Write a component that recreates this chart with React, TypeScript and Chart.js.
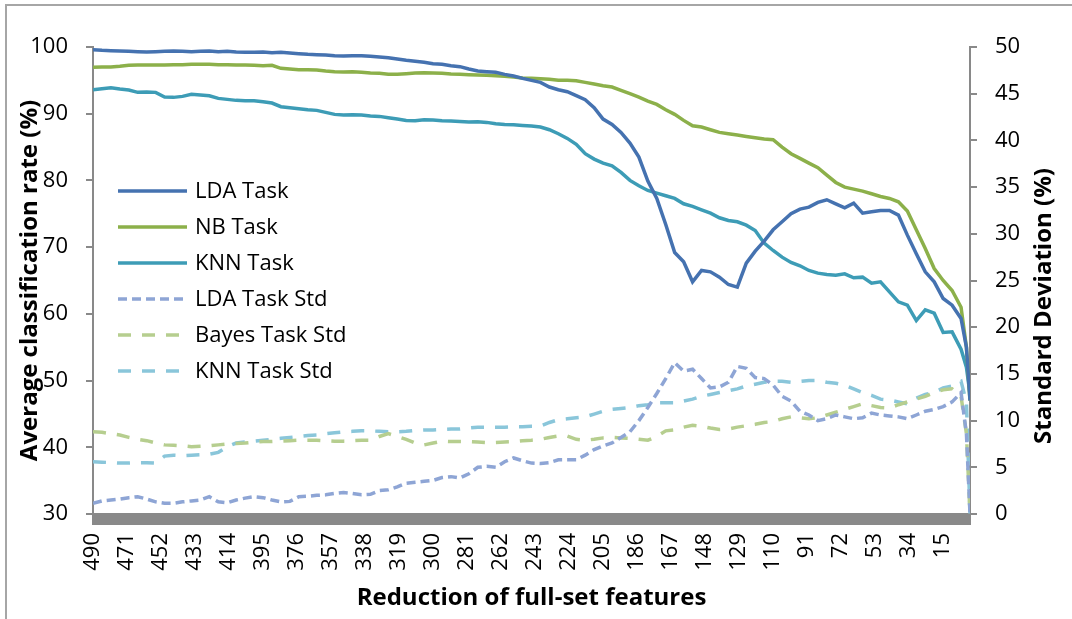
import React, { useEffect, useRef } from 'react';
import { Chart, registerables } from 'chart.js';

Chart.register(...registerables);

const X_FEATURES = [490,485,480,475,470,465,460,455,450,445,440,435,430,425,420,415,410,405,400,395,390,385,380,375,370,365,360,355,350,345,340,335,330,325,320,315,310,305,300,295,290,285,280,275,270,265,260,255,250,245,240,235,230,225,220,215,210,205,200,195,190,185,180,175,170,165,160,155,150,145,140,135,130,125,120,115,110,105,100,95,90,85,80,75,70,65,60,55,50,45,40,35,30,25,20,15,10,5,2,0];

const LDA_TASK = [
  99.6, 99.5, 99.45, 99.4, 99.35, 99.3, 99.25, 99.3, 99.35, 99.4,
  99.35, 99.3, 99.35, 99.4, 99.3, 99.35, 99.25, 99.2, 99.2, 99.25,
  99.15, 99.2, 99.1, 99.0, 98.9, 98.85, 98.8, 98.7, 98.65, 98.7,
  98.7, 98.6, 98.5, 98.4, 98.2, 98.0, 97.85, 97.7, 97.5, 97.4,
  97.2, 97.05, 96.7, 96.4, 96.3, 96.2, 95.9, 95.65, 95.3, 95.0,
  94.7, 94.0, 93.6, 93.3, 92.7, 92.1, 90.9, 89.2, 88.4, 87.2,
  85.6, 83.5, 79.9, 77.3, 73.4, 69.2, 67.8, 64.8, 66.5, 66.3,
  65.5, 64.4, 64.0, 67.6, 69.4, 70.9, 72.6, 73.8, 75.0, 75.7,
  76.0, 76.7, 77.1, 76.5, 75.9, 76.6, 75.1, 75.3, 75.5, 75.5,
  74.8, 71.8, 69.0, 66.3, 64.8, 62.3, 61.3, 59.3, 55.0, 47.0
];

const NB_TASK = [
  96.95, 97.0, 97.0, 97.1, 97.25, 97.3, 97.3, 97.3, 97.3, 97.35,
  97.35, 97.4, 97.4, 97.4, 97.35, 97.35, 97.3, 97.3, 97.25, 97.2,
  97.25, 96.8, 96.7, 96.6, 96.6, 96.55, 96.4, 96.3, 96.25, 96.3,
  96.2, 96.1, 96.05, 95.9, 95.9, 96.0, 96.1, 96.15, 96.1, 96.05,
  95.95, 95.9, 95.85, 95.8, 95.75, 95.7, 95.6, 95.5, 95.35, 95.3,
  95.25, 95.15, 95.0, 95.0, 94.95, 94.7, 94.45, 94.2, 94.0, 93.5,
  93.0, 92.5, 91.9, 91.4, 90.6, 89.9, 89.0, 88.2, 88.0, 87.6,
  87.2, 87.0, 86.8, 86.6, 86.4, 86.2, 86.1, 85.0, 84.0, 83.3,
  82.6, 81.9, 80.8, 79.7, 79.0, 78.7, 78.4, 78.0, 77.6, 77.3,
  76.8, 75.4, 72.6, 69.8, 66.8, 65.0, 63.5, 61.0, 55.0, 47.0
];

const KNN_TASK = [
  93.6, 93.75, 93.9, 93.7, 93.55, 93.2, 93.25, 93.2, 92.5, 92.45,
  92.6, 92.9, 92.8, 92.7, 92.3, 92.15, 92.0, 91.95, 91.95, 91.8,
  91.6, 91.05, 90.9, 90.75, 90.6, 90.5, 90.2, 89.9, 89.8, 89.85,
  89.8, 89.65, 89.6, 89.4, 89.2, 89.0, 88.95, 89.1, 89.05, 88.95,
  88.9, 88.85, 88.75, 88.8, 88.7, 88.5, 88.4, 88.35, 88.25, 88.15,
  88.0, 87.6, 87.0, 86.3, 85.4, 84.0, 83.2, 82.6, 82.2, 81.2,
  80.0, 79.2, 78.5, 78.1, 77.7, 77.3, 76.5, 76.1, 75.6, 75.1,
  74.4, 74.0, 73.8, 73.3, 72.5, 70.6, 69.5, 68.5, 67.7, 67.2,
  66.5, 66.1, 65.9, 65.8, 66.0, 65.4, 65.5, 64.6, 64.8, 63.3,
  61.8, 61.3, 59.0, 60.6, 60.1, 57.2, 57.3, 54.7, 52.0, 48.0
];

const LDA_STD = [
  1.15, 1.4, 1.5, 1.6, 1.75, 1.85, 1.6, 1.3, 1.15, 1.15,
  1.3, 1.4, 1.5, 1.85, 1.3, 1.2, 1.5, 1.7, 1.85, 1.75,
  1.5, 1.3, 1.35, 1.85, 1.9, 2.0, 2.05, 2.2, 2.3, 2.2,
  2.05, 2.1, 2.5, 2.6, 2.9, 3.3, 3.4, 3.5, 3.6, 3.9,
  4.0, 3.85, 4.3, 5.0, 5.1, 5.0, 5.6, 6.0, 5.7, 5.45,
  5.4, 5.5, 5.8, 5.8, 5.8, 6.3, 6.9, 7.3, 7.6, 8.2,
  8.8, 10.0, 11.4, 12.9, 14.5, 16.2, 15.3, 15.5, 14.5, 13.5,
  13.6, 14.1, 15.8, 15.6, 14.6, 14.5, 13.8, 12.6, 12.1, 11.0,
  10.6, 10.0, 10.2, 10.6, 10.4, 10.2, 10.3, 10.8, 10.6, 10.5,
  10.4, 10.2, 10.6, 11.0, 11.2, 11.5, 12.0, 13.0, 8.6, 0
];

const BAYES_STD = [
  8.8, 8.75, 8.6, 8.45, 8.2, 8.0, 7.85, 7.6, 7.4, 7.35,
  7.3, 7.2, 7.25, 7.3, 7.4, 7.5, 7.55, 7.6, 7.7, 7.75,
  7.75, 7.8, 7.85, 7.9, 7.9, 7.9, 7.85, 7.8, 7.8, 7.85,
  7.9, 7.9, 8.3, 8.6, 8.3, 8.0, 7.6, 7.4, 7.6, 7.8,
  7.75, 7.75, 7.75, 7.7, 7.65, 7.65, 7.7, 7.75, 7.85, 7.9,
  8.0, 8.2, 8.35, 8.35, 8.0, 7.9, 8.0, 8.15, 8.2, 8.15,
  8.1, 8.0, 7.9, 8.3, 8.9, 9.0, 9.3, 9.5, 9.4, 9.2,
  9.05, 9.1, 9.3, 9.45, 9.6, 9.8, 9.9, 10.2, 10.4, 10.3,
  10.2, 10.3, 10.6, 10.9, 11.2, 11.5, 11.8, 11.6, 11.4, 11.35,
  11.7, 12.0, 12.3, 12.6, 13.0, 13.3, 13.4, 12.6, 8.6, 0
];

const KNN_STD = [
  5.6, 5.55, 5.5, 5.45, 5.45, 5.5, 5.5, 5.45, 6.2, 6.3,
  6.25, 6.3, 6.35, 6.4, 6.6, 7.2, 7.6, 7.7, 7.8, 7.9,
  8.0, 8.1, 8.2, 8.3, 8.4, 8.45, 8.6, 8.7, 8.8, 8.85,
  8.9, 8.9, 8.85, 8.8, 8.8, 8.85, 8.95, 9.0, 9.0, 9.05,
  9.1, 9.1, 9.2, 9.3, 9.3, 9.3, 9.3, 9.35, 9.35, 9.4,
  9.4, 9.8, 10.1, 10.2, 10.3, 10.4, 10.7, 11.0, 11.2, 11.3,
  11.4, 11.6, 11.7, 11.9, 11.9, 11.9, 12.1, 12.3, 12.6, 12.8,
  13.0, 13.2, 13.4, 13.7, 13.9, 14.1, 14.2, 14.2, 14.1, 14.2,
  14.3, 14.3, 14.1, 14.0, 13.8, 13.4, 13.0, 12.7, 12.3, 12.2,
  12.0, 11.8, 12.4, 12.8, 13.0, 13.5, 13.7, 14.2, 12.0, 0
];

const X_TICK_LABELS = [490, 471, 452, 433, 414, 395, 376, 357, 338, 319, 300, 281, 262, 243, 224, 205, 186, 167, 148, 129, 110, 91, 72, 53, 34, 15];

const FONT = '"Open Sans", "DejaVu Sans", sans-serif';
const AXIS_GRAY = '#898989';

const insideLegend = {
  id: 'insideLegend',
  afterDatasetsDraw(chart: any) {
    const ctx = chart.ctx;
    ctx.save();
    chart.data.datasets.forEach((ds: any, i: number) => {
      const y = 191 + i * 36;
      ctx.beginPath();
      ctx.strokeStyle = ds.borderColor;
      ctx.lineWidth = ds.borderWidth;
      ctx.lineCap = 'butt';
      ctx.setLineDash(ds.borderDash || []);
      ctx.moveTo(118, y);
      ctx.lineTo(187, y);
      ctx.stroke();
      ctx.setLineDash([]);
      ctx.fillStyle = '#000';
      ctx.font = `22px ${FONT}`;
      ctx.textBaseline = 'middle';
      ctx.textAlign = 'left';
      ctx.fillText(ds.label, 195, y + 1);
    });
    ctx.restore();
  },
};

const rightTitle = {
  id: 'rightTitle',
  afterDraw(chart: any) {
    const ctx = chart.ctx;
    ctx.save();
    ctx.translate(1044, 306);
    ctx.rotate(-Math.PI / 2);
    ctx.fillStyle = '#000';
    ctx.font = `bold 24px ${FONT}`;
    ctx.textAlign = 'center';
    ctx.textBaseline = 'middle';
    ctx.fillText('Standard Deviation (%)', 0, 0);
    ctx.restore();
  },
};

function pts(values: number[]) {
  return X_FEATURES.map((x, i) => ({ x, y: values[i] }));
}

export default function App() {
  const ref = useRef<HTMLCanvasElement | null>(null);

  useEffect(() => {
    if (!ref.current) return;
    Chart.defaults.font.family = FONT;
    const chart = new Chart(ref.current, {
      type: 'line',
      data: {
        datasets: [
          { label: 'LDA Task', data: pts(LDA_TASK), borderColor: '#4572B0', borderWidth: 3.5, yAxisID: 'y' },
          { label: 'NB Task', data: pts(NB_TASK), borderColor: '#8CB04A', borderWidth: 3.5, yAxisID: 'y' },
          { label: 'KNN Task', data: pts(KNN_TASK), borderColor: '#3D9CB6', borderWidth: 3.5, yAxisID: 'y' },
          { label: 'LDA Task Std', data: pts(LDA_STD), borderColor: '#8EA5D5', borderWidth: 3.5, borderDash: [9, 5], yAxisID: 'y1' },
          { label: 'Bayes Task Std', data: pts(BAYES_STD), borderColor: '#B6CE8F', borderWidth: 3.5, borderDash: [13, 11], yAxisID: 'y1' },
          { label: 'KNN Task Std', data: pts(KNN_STD), borderColor: '#8AC6DA', borderWidth: 3.5, borderDash: [13, 11], yAxisID: 'y1' },
        ] as any,
      },
      options: {
        animation: false,
        responsive: false,
        events: [],
        layout: { padding: { top: 47, left: 0, right: 0, bottom: 0 } },
        elements: { point: { radius: 0 }, line: { tension: 0 } },
        plugins: { legend: { display: false }, tooltip: { enabled: false } },
        scales: {
          x: {
            type: 'linear',
            min: 0,
            max: 490,
            reverse: true,
            afterBuildTicks: (scale: any) => {
              const t: any[] = [];
              for (let v = 490; v >= 0; v--) t.push({ value: v });
              scale.ticks = t;
            },
            afterFit: (scale: any) => { scale.height = 105; },
            grid: { drawOnChartArea: false, drawTicks: true, tickLength: 11, color: AXIS_GRAY, tickColor: AXIS_GRAY, lineWidth: 2 },
            border: { display: true, color: AXIS_GRAY, width: 2 },
            ticks: {
              autoSkip: false,
              maxRotation: 90,
              minRotation: 90,
              padding: 8,
              color: '#000',
              font: { size: 22 },
              callback: (v: any) => (X_TICK_LABELS.includes(Number(v)) ? String(v) : ''),
            },
            title: {
              display: true,
              text: 'Reduction of full-set features',
              color: '#000',
              font: { size: 24, weight: 'bold' },
              padding: { top: 0, bottom: 6 },
            },
          },
          y: {
            type: 'linear',
            position: 'left',
            min: 30,
            max: 100,
            afterFit: (scale: any) => { scale.width = 93; },
            ticks: { stepSize: 10, padding: 18, color: '#000', font: { size: 22 } },
            grid: { drawOnChartArea: false, tickLength: 7, color: AXIS_GRAY, tickColor: AXIS_GRAY, lineWidth: 2 },
            border: { color: AXIS_GRAY, width: 2 },
            title: {
              display: true,
              text: 'Average classification rate (%)',
              color: '#000',
              font: { size: 24, weight: 'bold' },
              padding: { top: 16, bottom: 0 },
            },
          },
          y1: {
            type: 'linear',
            position: 'right',
            min: 0,
            max: 50,
            afterFit: (scale: any) => { scale.width = 102; },
            ticks: { stepSize: 5, padding: 18, color: '#000', font: { size: 22 } },
            grid: { drawOnChartArea: false, tickLength: 7, color: AXIS_GRAY, tickColor: AXIS_GRAY, lineWidth: 2 },
            border: { color: AXIS_GRAY, width: 2 },
          },
        },
      } as any,
      plugins: [insideLegend, rightTitle],
    });
    return () => chart.destroy();
  }, []);

  return (
    <div style={{ position: 'fixed', left: 0, top: 0, width: 1072, height: 619, overflow: 'hidden', background: '#fff' }}>
      <div style={{ position: 'absolute', left: 5, top: 4, width: 1100, height: 700, border: '2px solid #a6a6a6' }} />
      <canvas ref={ref} width={1072} height={619} style={{ position: 'absolute', left: 0, top: 0 }} />
    </div>
  );
}
